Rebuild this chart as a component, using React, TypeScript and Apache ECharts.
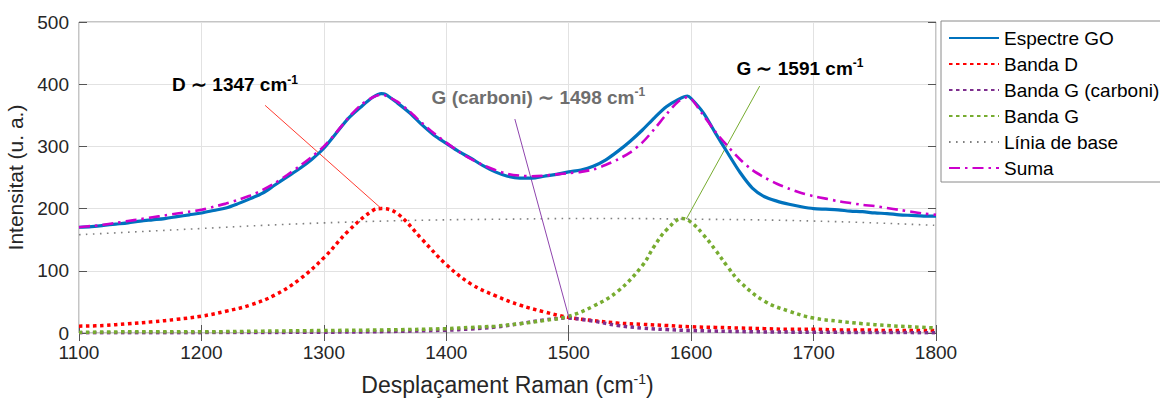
import React, { useEffect, useRef } from "react";
import * as echarts from "echarts";

const X_TICKS = [1100, 1200, 1300, 1400, 1500, 1600, 1700, 1800];
const Y_TICKS = [0, 100, 200, 300, 400, 500];

const specX = [1100,1110,1120,1130,1140,1150,1160,1170,1180,1190,1200,1210,1220,1230,1240,1250,1260,1270,1280,1290,1300,1310,1320,1330,1340,1347,1350,1360,1370,1380,1390,1400,1410,1420,1430,1440,1450,1460,1470,1480,1490,1500,1510,1520,1530,1540,1550,1560,1570,1580,1590,1597,1600,1610,1620,1630,1640,1650,1660,1670,1680,1690,1700,1710,1720,1730,1740,1750,1760,1770,1780,1790,1800];
const spectreGO = [170,171,173,175,177,180,182,184,187,190,193,197,201,208,216,225,238,251,264,279,297,321,345,363,379,385,384,370,354,335,318,305,292,281,269,259,252,249,249,252,255,259,262,268,278,292,308,326,346,364,376,381,377,354,321,289,258,233,219,212,207,203,200,199,198,196,195,193,192,190,189,188,188];
const suma = [170,172,174,177,180,183,186,189,192,195,198,203,208,214,221,230,241,254,268,283,300,322,346,366,379,383,382,372,356,338,321,306,292,280,270,262,256,253,252,253,255,257,259,263,270,279,290,306,328,352,373,379,377,350,323,300,279,262,250,240,232,225,220,216,212,209,206,204,201,198,195,192,190];

const bandDX = [1100,1120,1140,1160,1180,1200,1220,1240,1260,1280,1300,1320,1340,1347,1360,1380,1400,1420,1440,1460,1480,1500,1520,1540,1560,1580,1600,1620,1640,1660,1680,1700,1720,1740,1760,1780,1800];
const bandD = [11,12,15,18,22,27,35,45,61,86,121,164,197,200,192,151,110,79,60,45,34,25,20,16,14,12,10,9,8,7,6,6,5,5,4,4,4];

const bandGCX = [1100,1200,1300,1350,1400,1420,1440,1460,1480,1498,1520,1540,1560,1580,1600,1650,1700,1750,1800];
const bandGC = [0.3,0.6,1.3,2.3,4.6,6.5,9.5,15,21,24,19,12,8,5.5,4,2,1.2,0.8,0.5];

const bandGX = [1100,1150,1200,1250,1300,1350,1400,1420,1440,1460,1480,1500,1520,1540,1560,1570,1580,1593,1600,1610,1620,1630,1640,1660,1680,1700,1720,1740,1760,1780,1800];
const bandG = [1,2,2,3,4,5,7,9,11,15,20,27,43,67,108,140,166,184,178,158,133,106,82,51,35,24,19,15,12,10,8];

const baseX = [1100,1150,1200,1250,1300,1350,1400,1450,1500,1550,1600,1650,1700,1750,1800];
const baseline = [158,163,168,173,177,180,182,183,184,184,183,182,180,177,173];

// annotation pointers [x, y] pairs in data units
const ptrD = [[1252, 366], [1347, 200]];
const ptrGC = [[1456, 344], [1500, 26]];
const ptrG = [[1596, 183], [1656, 397]];

const zip = (xs: number[], ys: number[]) => xs.map((x, i) => [x, ys[i]]);

const FONT = "Helvetica, Arial, 'Liberation Sans', sans-serif";
const TXT = "#262626";

export default function App() {
  const ref = useRef<HTMLDivElement>(null);
  useEffect(() => {
    document.body.style.margin = "0";
    const chart = echarts.init(ref.current!, null, { renderer: "svg" });
    const interval = X_TICKS[1] - X_TICKS[0];
    const yInterval = Y_TICKS[1] - Y_TICKS[0];
    const dotted = (name: string, xs: number[], ys: number[], color: string) => ({
      name, type: "line", data: zip(xs, ys), smooth: 0.4, showSymbol: false, symbol: "none",
      lineStyle: { color, width: 3.5, type: [3.5, 3.5], cap: "butt" }, itemStyle: { color },
      z: 3,
    });
    const ptr = (name: string, pts: number[][], color: string) => ({
      name, type: "line", data: pts, symbol: "none", silent: true,
      lineStyle: { color, width: 1 }, z: 4,
    });
    const tickStyle = { show: true, inside: true, length: 8, lineStyle: { color: "#555" } };
    chart.setOption({
      animation: false,
      textStyle: { fontFamily: FONT },
      grid: { left: 79, right: 224, top: 22, bottom: 65, show: true, borderColor: "#8a8a8a", borderWidth: 1, containLabel: false, outerBoundsMode: "none" },
      legend: {
        orient: "vertical", left: 941, top: 21, padding: [7, 40, 4, 7],
        itemWidth: 50, itemHeight: 14, itemGap: 6,
        itemStyle: { opacity: 0 },
        borderColor: "#8a8a8a", borderWidth: 1, backgroundColor: "#fff",
        textStyle: { fontSize: 19, color: "#000", lineHeight: 20, fontFamily: FONT },
        data: ["Espectre GO", "Banda D", "Banda G (carboni)", "Banda G", "Línia de base", "Suma"],
      },
      xAxis: [
        {
          type: "value", min: X_TICKS[0], max: X_TICKS[X_TICKS.length - 1], interval,
          position: "bottom",
          name: "{n|Desplaçament Raman (cm}{s|-1}{n|)}", nameLocation: "middle", nameGap: 39,
          nameTextStyle: { rich: { n: { fontSize: 23, color: TXT, fontFamily: FONT, lineHeight: 26 }, s: { fontSize: 14, color: TXT, fontFamily: FONT, verticalAlign: "top", lineHeight: 13 } } },
          axisLine: { show: false },
          axisTick: tickStyle,
          axisLabel: { fontSize: 19, color: TXT, margin: 10, fontFamily: FONT, formatter: (v: number) => String(v) },
          splitLine: { show: true, lineStyle: { color: "#e2e2e2", width: 1 } },
        },
        {
          type: "value", min: X_TICKS[0], max: X_TICKS[X_TICKS.length - 1], interval,
          position: "top", axisLine: { show: false },
          axisTick: tickStyle,
          axisLabel: { show: false }, splitLine: { show: false },
        },
      ],
      yAxis: [
        {
          type: "value", min: Y_TICKS[0], max: Y_TICKS[Y_TICKS.length - 1], interval: yInterval,
          position: "left",
          name: "Intensitat (u. a.)", nameLocation: "middle", nameGap: 38,
          nameTextStyle: { fontSize: 21, color: TXT, fontFamily: FONT },
          axisLine: { show: false },
          axisTick: tickStyle,
          axisLabel: { fontSize: 19, color: TXT, margin: 10, fontFamily: FONT },
          splitLine: { show: true, lineStyle: { color: "#e2e2e2", width: 1 } },
        },
        {
          type: "value", min: Y_TICKS[0], max: Y_TICKS[Y_TICKS.length - 1], interval: yInterval,
          position: "right", axisLine: { show: false },
          axisTick: tickStyle,
          axisLabel: { show: false }, splitLine: { show: false },
        },
      ],
      series: [
        ptr("ptrD", ptrD, "#ff3b30"),
        ptr("ptrGC", ptrGC, "#8e44ad"),
        ptr("ptrG", ptrG, "#77AC30"),
        {
          name: "Espectre GO", type: "line", data: zip(specX, spectreGO), smooth: 0.3, symbol: "none",
          lineStyle: { color: "#0072BD", width: 3.2 }, itemStyle: { color: "#0072BD" }, z: 5,
        },
        dotted("Banda D", bandDX, bandD, "#FF0000"),
        dotted("Banda G (carboni)", bandGCX, bandGC, "#7E2F8E"),
        dotted("Banda G", bandGX, bandG, "#77AC30"),
        {
          name: "Línia de base", type: "line", data: zip(baseX, baseline), smooth: 0.4, symbol: "none",
          lineStyle: { color: "#808080", width: 1.6, type: [1.6, 5.4] }, itemStyle: { color: "#808080" }, z: 3,
        },
        {
          name: "Suma", type: "line", data: zip(specX, suma), smooth: 0.3, symbol: "none",
          lineStyle: { color: "#CC00CC", width: 2.6, type: [11, 5, 2.5, 5] }, itemStyle: { color: "#CC00CC" }, z: 6,
        },
      ],
    });
    const px = (x: number, y: number) => chart.convertToPixel({ xAxisIndex: 0, yAxisIndex: 0 }, [x, y]) as number[];
    const label = (x: number, y: number, main: string, color: string) => {
      const p = px(x, y);
      return {
        type: "text", x: p[0], y: p[1], z: 100,
        style: {
          text: `{b|${main}}{s|-1}`, verticalAlign: "middle", align: "left",
          rich: {
            b: { fontSize: 19, fontWeight: "bold", fill: color, fontFamily: FONT, lineHeight: 22 },
            s: { fontSize: 12, fontWeight: "bold", fill: color, fontFamily: FONT, verticalAlign: "top", lineHeight: 12 },
          },
        },
      };
    };
    chart.setOption({
      graphic: [
        label(1176, 399, "D ∼ 1347 cm", "#000"),
        label(1388, 379, "G (carboni) ∼ 1498 cm", "#6e6e6e"),
        label(1637, 426, "G ∼ 1591 cm", "#000"),
      ],
    });
    return () => chart.dispose();
  }, []);
  return <div ref={ref} style={{ width: 1160, height: 398 }} />;
}
